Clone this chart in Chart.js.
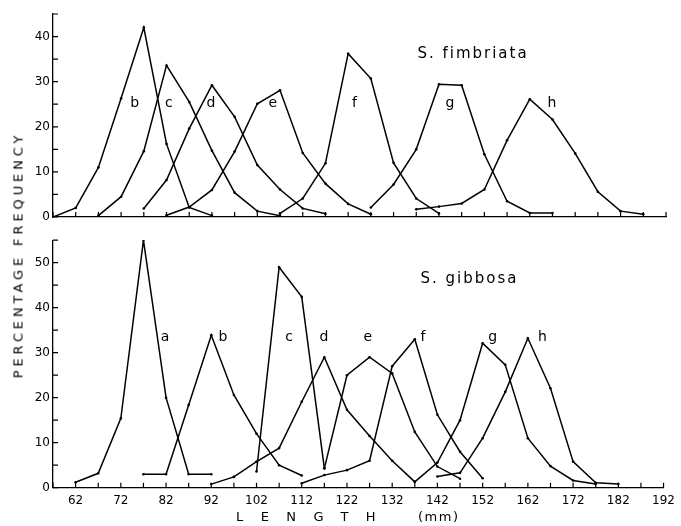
<!DOCTYPE html>
<html><head><meta charset="utf-8">
<script src="https://cdn.jsdelivr.net/npm/chart.js@4.4.1/dist/chart.umd.min.js"></script>
<style>
body{margin:0;background:#fff;width:681px;height:526px;position:relative;overflow:hidden;font-family:"DejaVu Sans",sans-serif;color:#000}
#top{position:absolute;left:0;top:0}
#bot{position:absolute;left:0;top:230px}
.yt{position:absolute;left:18px;top:255px;transform:translate(-50%,-50%) rotate(-90deg);white-space:nowrap;font-size:13px;letter-spacing:3.9px}
.xt{position:absolute;top:509px;white-space:nowrap;font-size:13px}
</style></head>
<body>
<canvas id="top" width="681" height="230"></canvas>
<canvas id="bot" width="681" height="296"></canvas>
<div class="yt">PERCENTAGE FREQUENCY</div>
<div class="xt" style="left:236px;letter-spacing:17.4px">LENGTH</div>
<div class="xt" style="left:418px;letter-spacing:1.5px">(mm)</div>
<script>
// length classes are 5 mm apart, each curve starts at its first class
const step=5
const lenMin=57, lenMax=192

// S. fimbriata
const fimNames=['b','c','d','e','f','g','h']
const fimStart=[57,67,77,82,107,127,137]
const fimB=[0,2,11,26.3,42,16.2,2.1,0.3]
const fimC=[0.3,4.5,14.6,33.6,25.5,14.7,5.4,1.3,0.3]
const fimD=[1.9,8.2,19.6,29.2,22.2,11.5,6.1,1.9,0.7]
const fimE=[0.4,2.2,6,14.5,25.1,28.1,14.2,7.4,2.9,0.6]
const fimF=[0.8,4.1,11.9,36.2,30.7,12,4.1,0.8]
const fimG=[2.1,7.2,15,29.4,29.2,13.9,3.5,0.9,0.9]
const fimH=[1.7,2.3,3,6.1,17,26.1,21.6,14.1,5.6,1.3,0.6]
const fimLabelX=[75,82.5,91.8,105.4,123.4,144.4,166.9]
const fimLabelY=[25.2,25.2,25.2,25.2,25.2,25.2,25.2]

// S. gibbosa
const gibNames=['a','b','c','d','e','f','g','h']
const gibStart=[62,77,102,92,117,112,137,142]
const gibA=[1.2,3.2,15.4,55,20,3,3]
const gibB=[3,3,18.4,33.9,20.6,12,5,2.7]
const gibC=[3.6,49,42.4,4.3]
const gibD=[0.8,2.4,5.8,8.8,19.1,29,17.3,11.5,6,1.3]
const gibE=[4.3,25,29,25.4,12.4,4.7,2]
const gibF=[1,2.8,3.9,6,27,33,16.2,8,2.1]
const gibG=[1.3,5.6,15,32.1,27.3,11,4.8,1.6,0.8]
const gibH=[2.5,3.3,11,21.3,33.2,22.1,5.8,1.1,0.8]
const gibLabelX=[81.8,94.6,109.2,116.9,126.6,138.8,154.2,165.2]
const gibLabelY=[33.3,33.3,33.3,33.3,33.3,33.3,33.3,33.3]

const xLabels=[62,72,82,92,102,112,122,132,142,152,162,172,182,192]

Chart.defaults.color='#000'
Chart.defaults.font.family='"DejaVu Sans", sans-serif'
Chart.defaults.font.size=12

function pts(start,vals){return vals.map((v,i)=>({x:start+i*step,y:v}))}

function sets(starts,arrs){
return arrs.map((a,i)=>({data:pts(starts[i],a),borderColor:'#000',borderWidth:1.5,
pointRadius:1.3,pointBackgroundColor:'#000',pointBorderWidth:0,tension:0}))
}

// tick marks point into the plot, drawn by hand
const inTicks={id:'inTicks',afterDraw(chart){
const {ctx,scales:{x,y}}=chart
ctx.save();ctx.strokeStyle='#000';ctx.lineWidth=1.2;ctx.beginPath()
x.ticks.forEach(t=>{const p=x.getPixelForValue(t.value);ctx.moveTo(p,x.top);ctx.lineTo(p,x.top-5)})
y.ticks.forEach(t=>{const p=y.getPixelForValue(t.value);ctx.moveTo(y.right,p);ctx.lineTo(y.right+5,p)})
ctx.stroke();ctx.restore()
}}

function textPlugin(names,lx,ly,title,tx,ty){
return {id:'txt',afterDatasetsDraw(chart){
const {ctx,scales:{x,y}}=chart
ctx.save();ctx.fillStyle='#000';ctx.textAlign='center';ctx.textBaseline='middle'
ctx.font='14px "DejaVu Sans", sans-serif'
names.forEach((n,i)=>ctx.fillText(n,x.getPixelForValue(lx[i]),y.getPixelForValue(ly[i])))
ctx.font='15px "DejaVu Sans", sans-serif'
ctx.letterSpacing='2px'
ctx.fillText(title,x.getPixelForValue(tx),y.getPixelForValue(ty))
ctx.restore()
}}
}

function makeChart(id,datasets,yMax,showX,xH,padTop,plug){
return new Chart(document.getElementById(id),{
type:'line',
data:{datasets:datasets},
options:{responsive:false,animation:false,
layout:{padding:{top:padTop,right:15,left:0,bottom:0}},
plugins:{legend:{display:false},tooltip:{enabled:false}},
scales:{
x:{type:'linear',min:lenMin,max:lenMax,
grid:{display:false,drawTicks:false},border:{color:'#000',width:1.3},
afterBuildTicks(s){const t=[];for(let v=lenMin;v<=lenMax;v+=step)t.push({value:v});s.ticks=t},
afterFit(s){s.height=xH},
ticks:{autoSkip:false,maxRotation:0,padding:6,
callback:v=>showX&&xLabels.includes(v)?v:''}},
y:{min:0,max:yMax,
grid:{display:false,drawTicks:false},border:{color:'#000',width:1.3},
afterFit(s){s.width=53},
ticks:{stepSize:5,autoSkip:false,padding:3,callback:v=>v%10===0?v:''}}
}},
plugins:[inTicks,plug]
})
}

makeChart('top',sets(fimStart,[fimB,fimC,fimD,fimE,fimF,fimG,fimH]),45,false,13,14,
textPlugin(fimNames,fimLabelX,fimLabelY,'S. fimbriata',149.5,36))
makeChart('bot',sets(gibStart,[gibA,gibB,gibC,gibD,gibE,gibF,gibG,gibH]),55,true,38.3,9,
textPlugin(gibNames,gibLabelX,gibLabelY,'S. gibbosa',149.1,46.4))
</script>
</body></html>
